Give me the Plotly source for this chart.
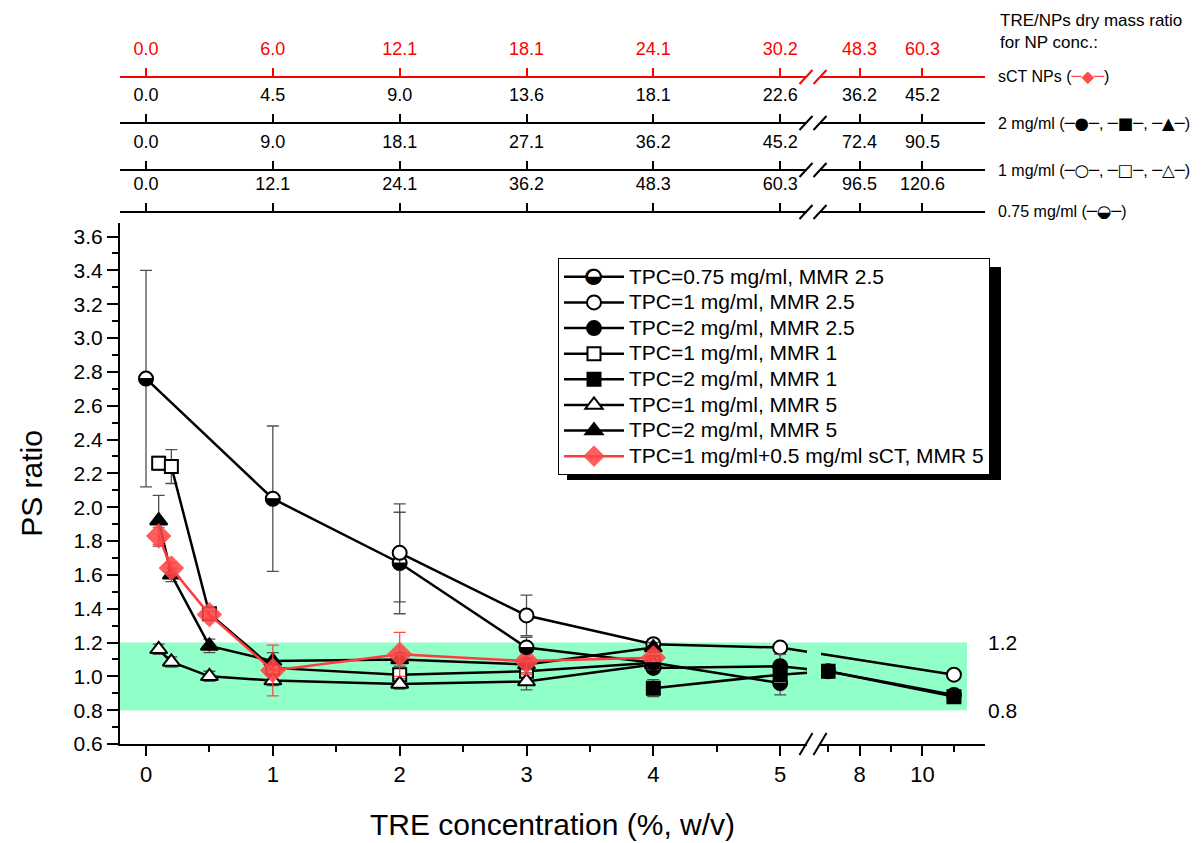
import plotly.graph_objects as go

# ---------------- data ----------------
x_tick_vals = [0, 1, 2, 3, 4, 5, 8, 10]
x_tick_text = ['0', '1', '2', '3', '4', '5', '8', '10']
x_minor_vals = [0.5, 1.5, 2.5, 3.5, 4.5, 7, 9, 11]

y_tick_vals = [0.6, 0.8, 1.0, 1.2, 1.4, 1.6, 1.8, 2.0, 2.2, 2.4, 2.6, 2.8, 3.0, 3.2, 3.4, 3.6]
y_minor_vals = [0.7, 0.9, 1.1, 1.3, 1.5, 1.7, 1.9, 2.1, 2.3, 2.5, 2.7, 2.9, 3.1, 3.3, 3.5]

ratio_sct = ['0.0', '6.0', '12.1', '18.1', '24.1', '30.2', '48.3', '60.3']
ratio_2mg = ['0.0', '4.5', '9.0', '13.6', '18.1', '22.6', '36.2', '45.2']
ratio_1mg = ['0.0', '9.0', '18.1', '27.1', '36.2', '45.2', '72.4', '90.5']
ratio_075mg = ['0.0', '12.1', '24.1', '36.2', '48.3', '60.3', '96.5', '120.6']

band_low, band_high = 0.8, 1.2

s075_x = [0, 1, 2, 3, 4, 5]
s075_y = [2.76, 2.05, 1.67, 1.17, 1.08, 0.96]
s075_e = [0.64, 0.43, 0.30, 0.06, 0.04, 0.07]

s1_25_x = [2, 3, 4, 5, 11]
s1_25_y = [1.73, 1.36, 1.19, 1.17, 1.01]
s1_25_e = [0.29, 0.12, 0.03, 0.02, 0.01]

s2_25_x = [4, 5, 7, 11]
s2_25_y = [1.05, 1.06, 1.03, 0.89]
s2_25_e = [0.03, 0.07, 0.02, 0.01]

s1_1_x = [0.1, 0.2, 0.5, 1, 2, 3, 4]
s1_1_y = [2.26, 2.24, 1.37, 1.05, 1.01, 1.03, 1.08]
s1_1_e = [0.04, 0.10, 0.02, 0.03, 0.03, 0.03, 0.03]

s2_1_x = [4, 5, 7, 11]
s2_1_y = [0.93, 1.01, 1.03, 0.88]
s2_1_e = [0.05, 0.03, 0.03, 0.01]

s1_5_x = [0.1, 0.2, 0.5, 1, 2, 3, 4]
s1_5_y = [1.16, 1.085, 1.00, 0.975, 0.955, 0.97, 1.07]
s1_5_e = [0.03, 0.03, 0.03, 0.03, 0.03, 0.05, 0.03]

s2_5_x = [0.1, 0.2, 0.5, 1, 2, 3, 4]
s2_5_y = [1.92, 1.60, 1.18, 1.09, 1.10, 1.07, 1.17]
s2_5_e = [0.15, 0.04, 0.04, 0.05, 0.04, 0.03, 0.03]

sct_x = [0.1, 0.2, 0.5, 1, 2, 3, 4]
sct_y = [1.83, 1.64, 1.365, 1.035, 1.13, 1.09, 1.11]
sct_e = [0.05, 0.03, 0.02, 0.15, 0.13, 0.08, 0.04]

# ---------------- geometry ----------------
W, H = 1204, 843
ML, MR, MT, MB = 120, 219, 10, 99
PW = W - ML - MR
PH = H - MT - MB
FONT = 'Liberation Sans, Arial, sans-serif'


def fx(px):
    return (px - ML) / PW


def fy(py):
    return (H - MB - py) / PH


P7, S_AFTER = 5.378, 0.248  # broken axis: segment after the break


def pos(v):
    return v if v <= 5 else P7 + (v - 7) * S_AFTER


def mp(vals):
    return [pos(v) for v in vals]


XR = [-0.205, 6.615]
YR = [0.6, 3.68]
YDOM_TOP = fy(223)

fig = go.Figure()

ERR_BLK = '#505050'
LEG_SPAN = "<span style='font-size:21px'>%s</span>"


def add_series(name, xs, ys, es, symbol, fill, size, lcolor='black', ecolor=ERR_BLK, mline=2):
    fig.add_trace(go.Scatter(
        x=mp(xs), y=ys, name=LEG_SPAN % name, mode='lines+markers',
        line=dict(color=lcolor, width=2.5),
        marker=dict(symbol=symbol, size=size, color=fill,
                    line=dict(color='black', width=mline)),
        error_y=dict(type='data', array=es, visible=True, color=ecolor,
                     thickness=1.3, width=6),
        cliponaxis=False,
    ))


add_series('TPC=0.75 mg/ml, MMR 2.5', s075_x, s075_y, s075_e, 'circle', 'white', 14)
add_series('TPC=1 mg/ml, MMR 2.5', s1_25_x, s1_25_y, s1_25_e, 'circle', 'white', 14)
add_series('TPC=2 mg/ml, MMR 2.5', s2_25_x, s2_25_y, s2_25_e, 'circle', 'black', 14)
add_series('TPC=1 mg/ml, MMR 1', s1_1_x, s1_1_y, s1_1_e, 'square', 'white', 13)
add_series('TPC=2 mg/ml, MMR 1', s2_1_x, s2_1_y, s2_1_e, 'square', 'black', 13)
add_series('TPC=1 mg/ml, MMR 5', s1_5_x, s1_5_y, s1_5_e, 'triangle-up', 'white', 15)
add_series('TPC=2 mg/ml, MMR 5', s2_5_x, s2_5_y, s2_5_e, 'triangle-up', 'black', 15)
fig.add_trace(go.Scatter(
    x=mp(sct_x), y=sct_y, name=LEG_SPAN % 'TPC=1 mg/ml+0.5 mg/ml sCT, MMR 5', mode='lines+markers',
    line=dict(color='#FF3B3B', width=2.5),
    marker=dict(symbol='diamond', size=19, color='rgba(255,70,70,0.88)',
                line=dict(color='rgba(255,70,70,0.6)', width=1)),
    error_y=dict(type='data', array=sct_e, visible=True, color='rgba(255,60,60,0.9)',
                 thickness=1.3, width=6),
    cliponaxis=False,
))

# invisible traces that carry the top ratio axes
top_axes = [('x2', ratio_sct, 77, 'red'), ('x3', ratio_2mg, 123, 'black'),
            ('x4', ratio_1mg, 170, 'black'), ('x5', ratio_075mg, 212, 'black')]
for ax, labels, py, col in top_axes:
    fig.add_trace(go.Scatter(x=mp(x_tick_vals), y=[1.0] * len(x_tick_vals), xaxis=ax, yaxis='y',
                             mode='markers', marker=dict(opacity=0), showlegend=False,
                             hoverinfo='skip'))

layout_axes = {}
for i, (ax, labels, py, col) in enumerate(top_axes):
    key = 'xaxis' + ax[1:]
    layout_axes[key] = dict(
        overlaying='x', anchor='free', position=fy(py), side='top',
        range=XR, tickmode='array', tickvals=mp(x_tick_vals), ticktext=labels,
        ticks='outside', ticklen=8, tickwidth=2, tickcolor=col,
        showline=True, linecolor=col, linewidth=2, showgrid=False, zeroline=False,
        tickfont=dict(family=FONT, size=18, color=col), ticklabelstandoff=6,
        automargin=False,
    )

shapes = []
# green acceptable band
shapes.append(dict(type='rect', xref='paper', yref='y', x0=0, x1=fx(967), y0=band_low, y1=band_high,
                   fillcolor='rgb(145,255,200)', line=dict(width=0), layer='below'))
# gap in the curves at the break
shapes.append(dict(type='rect', xref='paper', yref='paper', x0=fx(807), x1=fx(821),
                   y0=fy(741), y1=YDOM_TOP, fillcolor='white', line=dict(width=0), layer='above'))
shapes.append(dict(type='rect', xref='paper', yref='y', x0=fx(807), x1=fx(821),
                   y0=band_low, y1=band_high, fillcolor='rgb(145,255,200)', line=dict(width=0),
                   layer='above'))
# break marks on all horizontal axes
for py, col, hh in [(744, 'black', 11), (77, 'red', 7), (123, 'black', 7), (170, 'black', 7), (212, 'black', 7)]:
    shapes.append(dict(type='rect', xref='paper', yref='paper', x0=fx(807), x1=fx(820),
                       y0=fy(py + 3), y1=fy(py - 3), fillcolor='white', line=dict(width=0),
                       layer='above'))
    for cx in (806, 820):
        shapes.append(dict(type='line', xref='paper', yref='paper',
                           x0=fx(cx - 6.5), y0=fy(py + hh), x1=fx(cx + 6.5), y1=fy(py - hh),
                           line=dict(color=col, width=2), layer='above'))
# lower black half of the half-filled circles
HALF = 'M -7,0 C -7,-3.87 -3.87,-7 0,-7 C 3.87,-7 7,-3.87 7,0 Z'
for xv, yv in zip(s075_x, s075_y):
    shapes.append(dict(type='path', xref='x', yref='y', xsizemode='pixel', ysizemode='pixel',
                       xanchor=pos(xv), yanchor=yv, path=HALF, fillcolor='black',
                       line=dict(color='black', width=1), layer='above'))
# legend shadow
shapes.append(dict(type='rect', xref='paper', yref='paper', x0=fx(567), x1=fx(1001),
                   y0=fy(480), y1=fy(267), fillcolor='black', line=dict(width=0), layer='above'))

annotations = []
annotations.append(dict(xref='paper', yref='paper', x=fx(998), y=fy(31), xanchor='left', yanchor='middle',
                        align='left', showarrow=False,
                        text='TRE/NPs dry mass ratio<br>for NP conc.:',
                        font=dict(family=FONT, size=17, color='black')))
SYM = "<span style=\"font-family:'DejaVu Sans';font-size:16.5px%s\">%s</span>"
right_labels = [
    (77, 'sCT NPs (' + SYM % (';color:#FF4D4D', '─◆─') + ')'),
    (123, '2 mg/ml (' + SYM % ('', '─●─') + ', ' + SYM % ('', '─■─') + ', ' + SYM % ('', '─▲─') + ')'),
    (170, '1 mg/ml (' + SYM % ('', '─○─') + ', ' + SYM % ('', '─□─') + ', ' + SYM % ('', '─△─') + ')'),
    (212, '0.75 mg/ml (' + SYM % ('', '─◒─') + ')'),
]
for py, txt in right_labels:
    annotations.append(dict(xref='paper', yref='paper', x=fx(996), y=fy(py), xanchor='left',
                            yanchor='middle', showarrow=False, text=txt,
                            font=dict(family=FONT, size=16, color='black')))
for v in (band_high, band_low):
    annotations.append(dict(xref='paper', yref='y', x=fx(986), y=v, xanchor='left', yanchor='middle',
                            showarrow=False, text=f'{v:.1f}',
                            font=dict(family=FONT, size=21, color='black')))
# half-filled glyph laid over the legend symbol of the 0.75 mg/ml series
annotations.append(dict(xref='paper', yref='paper', x=fx(593), y=fy(275), xanchor='center',
                        yanchor='middle', showarrow=False, text='◒',
                        font=dict(family='DejaVu Sans', size=21, color='black')))

fig.update_layout(
    width=W, height=H, margin=dict(l=ML, r=MR, t=MT, b=MB, autoexpand=False),
    paper_bgcolor='white', plot_bgcolor='white',
    font=dict(family=FONT, color='black'),
    xaxis=dict(domain=[0, 1], range=XR, anchor='y', tickmode='array', tickvals=mp(x_tick_vals),
               ticktext=x_tick_text, ticks='outside', ticklen=10, tickwidth=2, tickcolor='black',
               showline=True, linecolor='black', linewidth=2, showgrid=False, zeroline=False,
               minor=dict(tickvals=mp(x_minor_vals), ticks='outside', ticklen=6, tickwidth=2,
                          tickcolor='black', showgrid=False),
               tickfont=dict(family=FONT, size=22), automargin=False,
               title=dict(text='TRE concentration (%, w/v)', font=dict(family=FONT, size=30), standoff=28)),
    yaxis=dict(domain=[0, YDOM_TOP], range=YR, anchor='x', tickmode='array', tickvals=y_tick_vals,
               ticktext=[f'{v:.1f}' for v in y_tick_vals], ticks='outside', ticklen=11, tickwidth=2,
               tickcolor='black', showline=True, linecolor='black', linewidth=2, showgrid=False,
               zeroline=False, automargin=False,
               minor=dict(tickvals=y_minor_vals, ticks='outside', ticklen=6, tickwidth=2,
                          tickcolor='black', showgrid=False),
               tickfont=dict(family=FONT, size=21),
               title=dict(text='PS ratio', font=dict(family=FONT, size=30), standoff=22)),
    legend=dict(x=fx(558), y=fy(258), xanchor='left', yanchor='top', bgcolor='white',
                bordercolor='black', borderwidth=1, font=dict(family=FONT, size=17.4),
                itemwidth=60, tracegroupgap=0),
    shapes=shapes, annotations=annotations, showlegend=True,
    **layout_axes,
)

fig.write_html('out.html')
